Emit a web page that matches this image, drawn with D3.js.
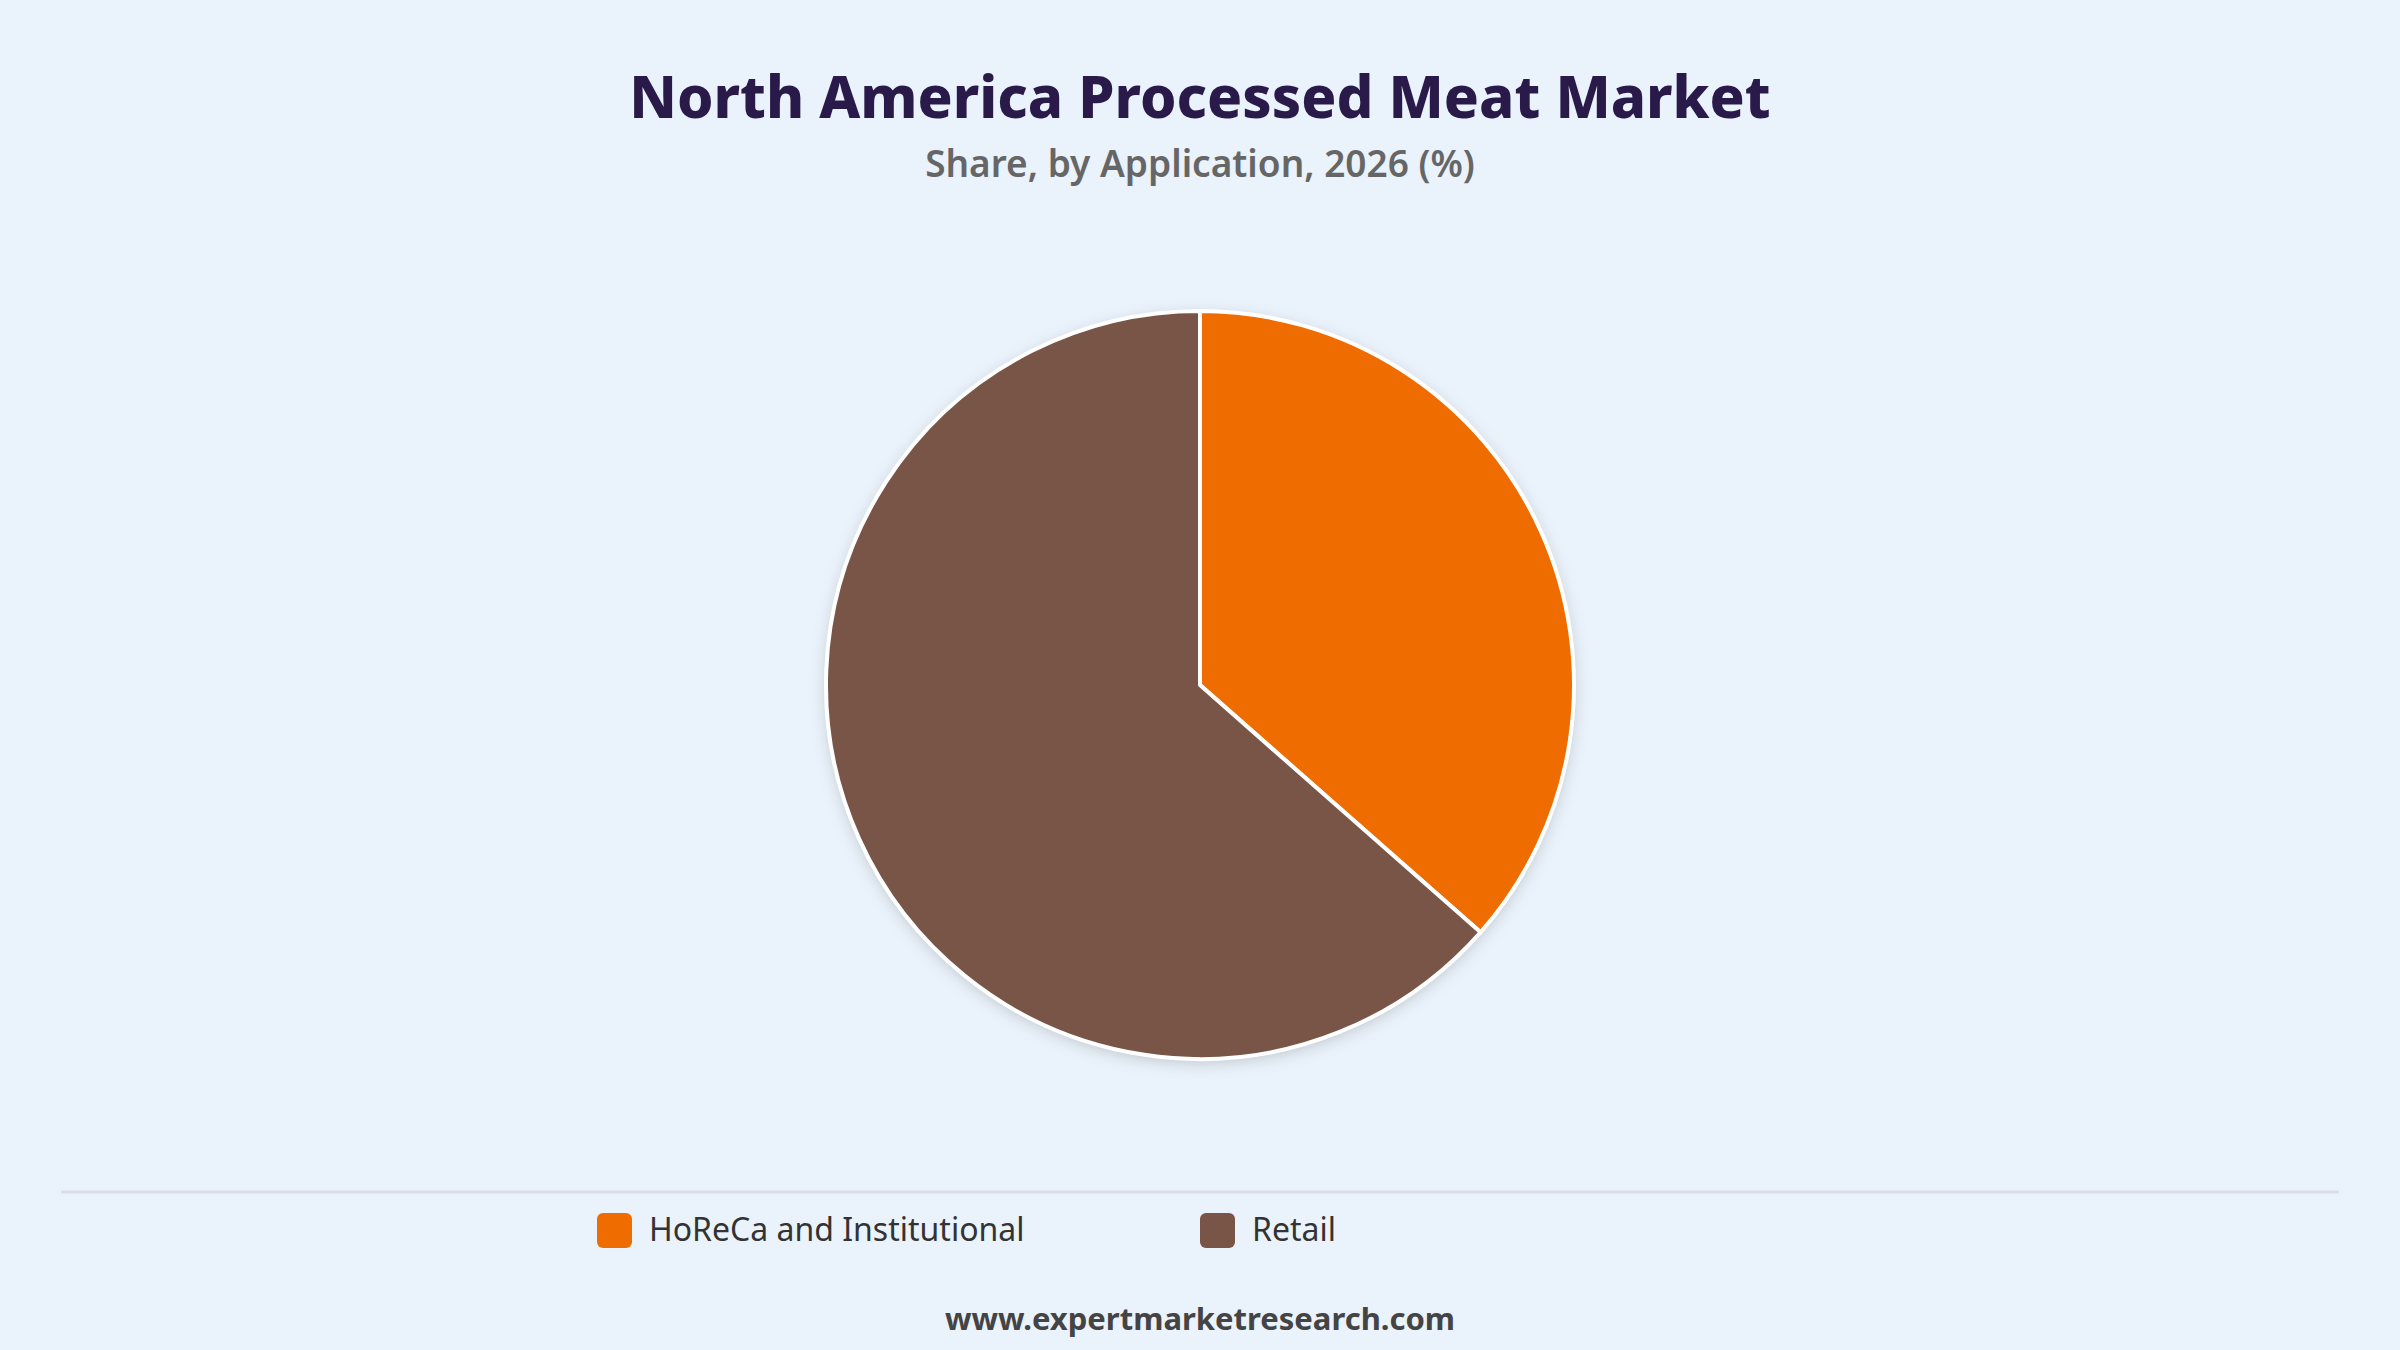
<!DOCTYPE html>
<html>
<head>
<meta charset="utf-8">
<script src="https://cdn.jsdelivr.net/npm/d3@7"></script>
<style>
  body { margin: 0; background: #eaf2fb; }
  svg { display: block; font-family: "Noto Sans", "Open Sans", sans-serif; }
</style>
</head>
<body>
<svg id="chart" width="2400" height="1350"></svg>
<script>
// data
const categories = ['HoReCa and Institutional', 'Retail'];
const shares = [36.5, 63.5];
const colors = ['#ef6c00', '#795548'];

const svg = d3.select('#chart');
const W = 2400;

svg.append('rect').attr('width', W).attr('height', 1350).attr('fill', '#eaf2fb');

svg.append('text')
    .attr('x', W / 2).attr('y', 118)
    .attr('text-anchor', 'middle')
    .attr('font-size', 58).attr('font-weight', 800)
    .attr('fill', '#2a1a4a')
    .text('North America Processed Meat Market');

svg.append('text')
    .attr('x', W / 2).attr('y', 177)
    .attr('text-anchor', 'middle')
    .attr('font-size', 37).attr('font-weight', 600)
    .attr('fill', '#666')
    .text('Share, by Application, 2026 (%)');

// shadow
const defs = svg.append('defs');
const f = defs.append('filter').attr('id', 'shadow').attr('x', '-20%').attr('y', '-20%').attr('width', '140%').attr('height', '140%');
f.append('feDropShadow').attr('dx', 0).attr('dy', 4).attr('stdDeviation', 8).attr('flood-color', '#000').attr('flood-opacity', 0.18);

const radius = 374;
const pie = d3.pie().sort(null).value(d => d)(shares);
const arc = d3.arc().innerRadius(0).outerRadius(radius);

const g = svg.append('g').attr('transform', 'translate(1200,685)');
g.append('circle').attr('r', radius).attr('fill', '#fff').attr('filter', 'url(#shadow)');
g.selectAll('path')
    .data(pie)
    .enter()
    .append('path')
    .attr('d', arc)
    .attr('fill', (d, i) => colors[i])
    .attr('stroke', '#fff')
    .attr('stroke-width', 4)
    .attr('stroke-linejoin', 'round');

// divider
svg.append('line')
    .attr('x1', 61).attr('x2', 2339)
    .attr('y1', 1192).attr('y2', 1192)
    .attr('stroke', '#d9dde3').attr('stroke-width', 3);

// legend
const legendX = d3.scalePoint().domain(categories).range([597, 1200]);
const lg = svg.selectAll('.legend')
    .data(categories)
    .enter()
    .append('g')
    .attr('transform', d => `translate(${legendX(d)},1230)`);
lg.append('rect')
    .attr('x', 0).attr('y', -17).attr('width', 35).attr('height', 35)
    .attr('rx', 6)
    .attr('fill', (d, i) => colors[i]);
lg.append('text')
    .attr('x', 52).attr('y', 0).attr('dy', '0.35em')
    .attr('font-size', 32).attr('fill', '#333')
    .text(d => d);

svg.append('text')
    .attr('x', W / 2).attr('y', 1330)
    .attr('text-anchor', 'middle')
    .attr('font-size', 31).attr('font-weight', 700)
    .attr('fill', '#444')
    .text('www.expertmarketresearch.com');
</script>
</body>
</html>
